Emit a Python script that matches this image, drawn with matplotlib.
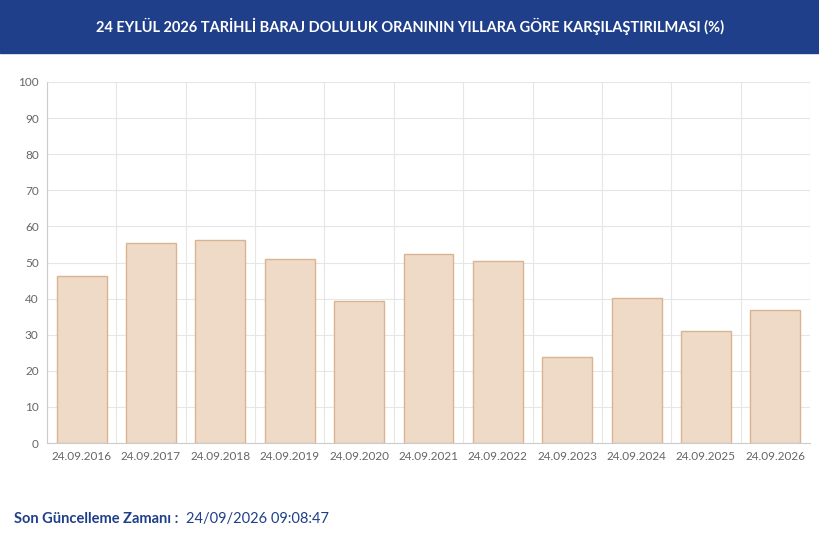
import matplotlib.pyplot as plt
from matplotlib.patches import Rectangle

dates = ["24.09.2016", "24.09.2017", "24.09.2018", "24.09.2019", "24.09.2020", "24.09.2021",
         "24.09.2022", "24.09.2023", "24.09.2024", "24.09.2025", "24.09.2026"]
doluluk = [46.3, 55.4, 56.2, 51.0, 39.3, 52.4, 50.4, 23.8, 40.2, 31.0, 36.8]
yticks = list(range(0, 101, 10))

plt.rcParams['font.family'] = ['Lato', 'DejaVu Sans']

fig = plt.figure(figsize=(8.2, 5.44), dpi=100)

# header band
fig.patches.append(Rectangle((0, 1 - 53 / 544), 1, 53 / 544, transform=fig.transFigure,
                             color='#1f3f8a', zorder=0))
fig.text(0.5, 1 - 26 / 544, "24 EYLÜL 2026 TARİHLİ BARAJ DOLULUK ORANININ YILLARA GÖRE KARŞILAŞTIRILMASI (%)",
         color='white', fontsize=10.5, fontweight='bold', ha='center', va='center')

ax = fig.add_axes([47 / 820, 1 - 443 / 544, (810 - 47) / 820, (443 - 82) / 544])
x = range(len(dates))
ax.bar(x, doluluk, width=0.72, color='#efdac8', edgecolor='#d9b48f', linewidth=1, zorder=2)
ax.set_xlim(-0.5, len(dates) - 0.5)
ax.set_ylim(0, 100)
ax.set_yticks(yticks)
ax.set_xticks(list(x))
ax.set_xticklabels(dates)
ax.set_xticks([i + 0.5 for i in range(-1, len(dates))], minor=True)
ax.grid(True, which='minor', axis='x', color='#e6e6e6', linewidth=0.8)
ax.grid(True, which='major', axis='y', color='#e6e6e6', linewidth=0.8)
ax.tick_params(axis='both', which='both', length=0, labelsize=8.5, labelcolor='#666666', pad=6)
for s in ax.spines.values():
    s.set_visible(False)
ax.spines['left'].set_visible(True)
ax.spines['left'].set_color('#cccccc')
ax.spines['bottom'].set_visible(True)
ax.spines['bottom'].set_color('#cccccc')

fig.text(14 / 820, 1 - 519 / 544, "Son Güncelleme Zamanı :", color='#1f3f8a', fontsize=10.5,
         fontweight='bold', va='center')
fig.text(186 / 820, 1 - 519 / 544, "24/09/2026 09:08:47", color='#1f3f8a', fontsize=10.5, va='center')

fig.savefig("out.png", dpi=100)
